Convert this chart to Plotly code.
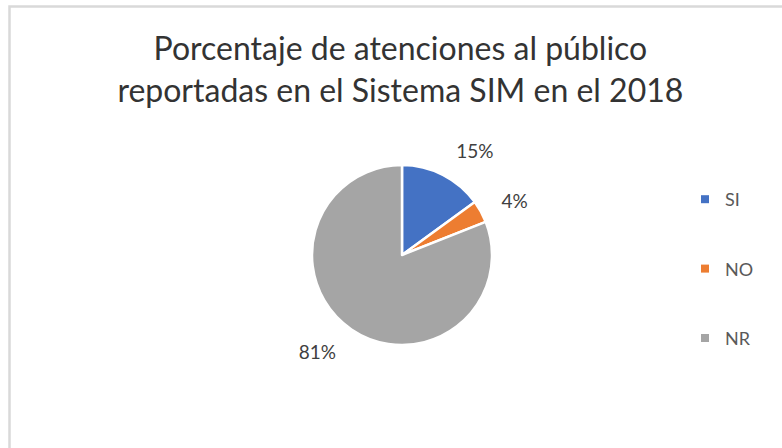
import plotly.graph_objects as go

title_lines = ["Porcentaje de atenciones al público", "reportadas en el Sistema SIM en el 2018"]
categories = ["SI", "NO", "NR"]
values = [15, 4, 81]
colors = ["#4472C4", "#ED7D31", "#A5A5A5"]

W, H = 782, 448
cx, cy, r = 402, 255, 90
rl = 107  # radius of the (invisible) pie that carries the outside labels


def dom(rad):
    return dict(x=[(cx - rad) / W, (cx + rad) / W], y=[1 - (cy + rad) / H, 1 - (cy - rad) / H])


fig = go.Figure()
fig.add_trace(go.Pie(
    labels=categories, values=values, sort=False, direction="clockwise", rotation=0,
    marker=dict(colors=colors, line=dict(color="white", width=2.5)),
    textinfo="none", showlegend=False, hoverinfo="label+percent",
    domain=dom(r),
))
fig.add_trace(go.Pie(
    labels=categories, values=values, sort=False, direction="clockwise", rotation=0,
    marker=dict(colors=["rgba(0,0,0,0)"] * len(values), line=dict(width=0)),
    textinfo="percent", textposition="outside", texttemplate="%{percent:.0%}",
    textfont=dict(family="Lato", size=19, color="#404040"),
    showlegend=False, hoverinfo="skip",
    domain=dom(rl),
))
for c, col in zip(categories, colors):
    fig.add_trace(go.Scatter(
        x=[None], y=[None], mode="markers", name=c, legendgroup=c,
        marker=dict(symbol="square", size=8, color=col),
    ))

fig.update_layout(
    width=W, height=H, margin=dict(l=0, r=0, t=0, b=0, autoexpand=False),
    paper_bgcolor="white", plot_bgcolor="white",
    xaxis=dict(visible=False), yaxis=dict(visible=False),
    title=dict(text="<br>".join(title_lines), x=0.512, xanchor="center", y=1 - 60 / H, yanchor="top",
               font=dict(family="Lato", size=32, color="#333333")),
    legend=dict(x=685 / W, xanchor="left", y=1 - 181 / H, yanchor="top",
                font=dict(family="Lato", size=18, color="#595959"),
                tracegroupgap=43, itemwidth=30, bgcolor="rgba(0,0,0,0)"),
    shapes=[dict(type="rect", xref="paper", yref="paper", x0=9.5 / W, y0=-0.05, x1=1.05, y1=1 - 6.5 / H,
                 line=dict(color="#D9D9D9", width=2.5), layer="below")],
)
fig.write_html("out.html", config={"displayModeBar": False},
               post_script="document.body.style.margin='0';")
